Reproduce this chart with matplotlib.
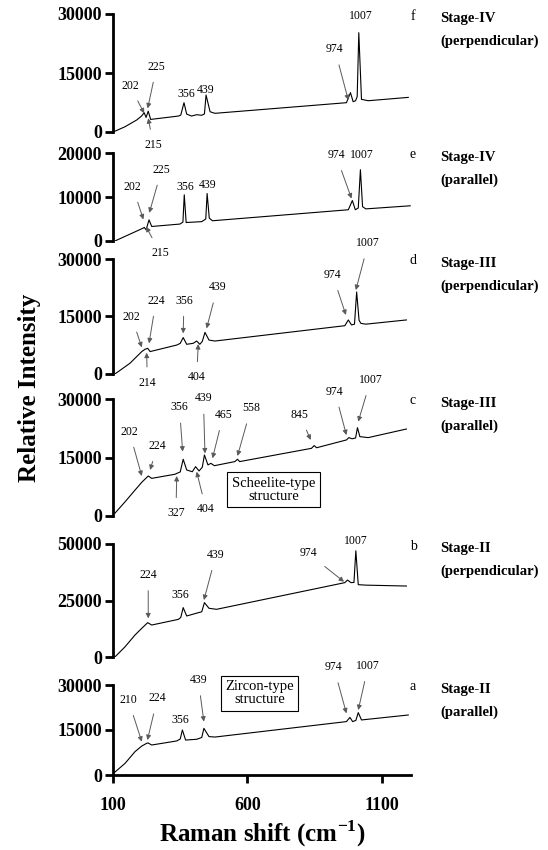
import matplotlib
matplotlib.use("Agg")
import matplotlib.pyplot as plt

plt.rcParams['font.family'] = 'serif'
plt.rcParams['font.serif'] = ['Liberation Serif', 'DejaVu Serif']
plt.rcParams['mathtext.fontset'] = 'custom'
plt.rcParams['mathtext.bf'] = 'Liberation Serif:bold'

# spectra, top (f) to bottom (a): Raman shift (cm-1) and intensity
x_f = [104, 145, 188, 206, 216, 223, 231, 240, 343, 352, 364, 374, 392, 411, 430, 440, 446, 461, 479,
       968, 983, 993, 1002, 1008, 1014, 1024, 1049, 1198]
y_f = [100, 1350, 3050, 4050, 4900, 3700, 5300, 3200, 4050, 4300, 7450, 4550, 4050, 4400, 4250, 4600, 9400, 5150, 4750,
       7450, 10000, 7700, 7950, 9000, 25250, 8300, 7950, 8800]

x_e = [107, 213, 216, 223, 234, 244, 349, 360, 365, 372, 430, 445, 450, 458, 470,
       975, 990, 1001, 1012, 1020, 1028, 1040, 1205]
y_e = [0, 2950, 3100, 2550, 4800, 3300, 3850, 4300, 10500, 4200, 4400, 5000, 10800, 5200, 4600,
       7100, 9200, 7100, 7500, 16200, 7800, 7300, 8000]

x_d = [107, 163, 207, 219, 229, 238, 337, 350, 361, 374, 398, 411, 423, 432, 442, 457, 479,
       962, 975, 987, 998, 1006, 1015, 1022, 1040, 1191]
y_d = [0, 2800, 5850, 6450, 6700, 5850, 7550, 8000, 9500, 7750, 8000, 8600, 7750, 8500, 10850, 8850, 8600,
       12600, 14100, 12800, 13000, 21400, 14000, 13200, 13000, 14100]

x_c = [107, 145, 182, 207, 225, 231, 244, 330, 350, 361, 374, 395, 407, 420, 432, 440, 453, 464, 477,
       553, 563, 571, 838, 848, 857, 968, 977, 989, 1002, 1009, 1018, 1049, 1191]
y_c = [700, 3650, 6650, 8650, 9850, 10250, 9650, 10700, 11300, 14550, 11800, 11350, 12650, 11550, 12500, 15650, 13100, 13500, 12900,
       13950, 14550, 13950, 17350, 18050, 17500, 19500, 20100, 19800, 20000, 22650, 20350, 20100, 22300]

x_b = [107, 145, 182, 207, 229, 244, 343, 352, 361, 374, 417, 430, 440, 457, 485,
       962, 972, 985, 996, 1003, 1012, 1040, 1191]
y_b = [0, 4550, 9750, 12700, 15200, 14150, 16650, 17500, 21850, 18150, 19600, 20000, 24050, 21550, 21100,
       32900, 34050, 32900, 33000, 47000, 32000, 31800, 31400]

x_a = [105, 145, 182, 207, 225, 230, 244, 337, 350, 358, 370, 411, 430, 438, 457, 479,
       968, 981, 991, 1003, 1012, 1024, 1198]
y_a = [800, 3900, 7800, 9650, 10550, 10700, 10000, 11350, 12000, 15000, 11650, 11900, 12500, 15550, 12800, 12650,
       17800, 19200, 17800, 18200, 20800, 18350, 20000]

spectra = [x_f, x_e, x_d, x_c, x_b, x_a]
intensities = [y_f, y_e, y_d, y_c, y_b, y_a]
y_tops = [30000, 20000, 30000, 30000, 50000, 30000]
letters = ['f', 'e', 'd', 'c', 'b', 'a']
stages = ['Stage-IV\n(perpendicular)', 'Stage-IV\n(parallel)', 'Stage-III\n(perpendicular)',
          'Stage-III\n(parallel)', 'Stage-II\n(perpendicular)', 'Stage-II\n(parallel)']
x_ticks = [100, 600, 1100]

# peak labels: (text, text x, text y, arrow tip x, arrow tip y); tip None -> no arrow
peaks_f = [('202', 163, 11700, 216, 4750), ('225', 262, 16600, 229, 6000), ('215', 250, -3300, 231, 3500),
           ('356', 374, 9650, None, None), ('439', 446, 10700, None, None),
           ('974', 925, 21000, 975, 8100), ('1007', 1020, 29500, None, None)]
peaks_e = [('202', 173, 12300, 213, 4900), ('225', 281, 16200, 235, 6400), ('215', 275, -2650, 223, 3250),
           ('356', 370, 12300, None, None), ('439', 451, 12700, None, None),
           ('974', 929, 19500, 987, 9650), ('1007', 1024, 19500, None, None)]
peaks_d = [('202', 169, 14950, 207, 6950), ('224', 260, 19150, 234, 8000), ('356', 364, 19150, 361, 10600),
           ('439', 488, 22600, 448, 11900), ('214', 228, -2250, 225, 5550), ('404', 411, -900, 417, 7800),
           ('974', 917, 25800, 966, 15400), ('1007', 1049, 34100, 1003, 21900)]
peaks_c = [('202', 161, 21600, 207, 10250), ('224', 265, 17950, 238, 11800), ('356', 347, 27850, 359, 16500),
           ('439', 436, 30150, 442, 16050), ('465', 510, 25900, 470, 14800), ('558', 613, 27600, 563, 15400),
           ('845', 795, 25900, 835, 19500), ('974', 925, 31900, 968, 20750), ('1007', 1058, 34850, 1012, 24200),
           ('327', 334, 700, 337, 10250), ('404', 446, 1700, 411, 11350)]
peaks_b = [('224', 231, 36300, 231, 17100), ('356', 349, 27450, None, None), ('439', 483, 45150, 438, 25200),
           ('974', 826, 45850, 959, 33300), ('1007', 1003, 51450, None, None)]
peaks_a = [('210', 157, 25000, 207, 11100), ('224', 265, 25550, 228, 11650), ('356', 351, 18350, None, None),
           ('439', 417, 31650, 438, 17800), ('974', 921, 35900, 968, 20550), ('1007', 1049, 36350, 1012, 21650)]
peak_labels = [peaks_f, peaks_e, peaks_d, peaks_c, peaks_b, peaks_a]

boxes = {3: ('Scheelite-type\nstructure', 697, 6750), 5: ('Zircon-type\nstructure', 645, 27250)}

# panel extents in pixels (top, bottom) of a 548x850 figure
panel_px = [(14, 132), (153, 241), (259, 374), (399, 516), (544, 657), (685, 775)]

fig = plt.figure(figsize=(5.48, 8.5), dpi=100)
left, right = 113 / 548, 410.7 / 548

for i in range(6):
    top, bot = panel_px[i]
    ax = fig.add_axes([left, 1 - bot / 850, right - left, (bot - top) / 850])
    ax.plot(spectra[i], intensities[i], color='black', lw=0.8)
    ax.set_xlim(100, 1207)
    ax.set_ylim(0, y_tops[i])
    ax.set_yticks([0, y_tops[i] // 2, y_tops[i]])
    ax.set_yticklabels([str(v) for v in [0, y_tops[i] // 2, y_tops[i]]], fontweight='bold', fontsize=13)
    ax.patch.set_alpha(0)
    for s in ['top', 'right']:
        ax.spines[s].set_visible(False)
    ax.spines['left'].set_linewidth(2)
    ax.tick_params(axis='y', length=6, width=2, pad=2)
    if i < 5:
        ax.spines['bottom'].set_visible(False)
        ax.set_xticks([])
    else:
        ax.spines['bottom'].set_linewidth(2)
        ax.set_xticks(x_ticks)
        ax.set_xticklabels([str(v) for v in x_ticks], fontweight='bold', fontsize=13)
        ax.tick_params(axis='x', length=6, width=2, pad=10)
        ax.set_xlabel('Raman shift (cm$^{\\mathbf{-1}}$)', fontweight='bold', fontsize=18, labelpad=3)

    for lab, tx, ty, px, py in peak_labels[i]:
        if px is None:
            ax.text(tx, ty, lab, fontsize=8.5, ha='center', va='center')
        else:
            ax.annotate(lab, xy=(px, py), xytext=(tx, ty), fontsize=8.5, ha='center', va='center',
                        annotation_clip=False,
                        arrowprops=dict(arrowstyle='-|>', color='0.35', lw=0.7, mutation_scale=7,
                                        shrinkA=5, shrinkB=0))
    if i in boxes:
        lab, bx, by = boxes[i]
        ax.text(bx, by, lab, fontsize=10.5, ha='center', va='center', linespacing=1.0,
                bbox=dict(boxstyle='square,pad=0.3', fc='white', ec='black', lw=0.8))

    fig.text(413 / 548, 1 - (top + 2) / 850, letters[i], fontsize=10, ha='center', va='center')
    fig.text(440 / 548, 1 - (top + 16) / 850, stages[i], fontsize=10.5, fontweight='bold',
             ha='left', va='center', linespacing=2.0)

fig.text(30 / 548, 1 - 388 / 850, 'Relative Intensity', rotation=90, fontsize=18, fontweight='bold',
         ha='center', va='center')

fig.savefig('out.png', dpi=100)
